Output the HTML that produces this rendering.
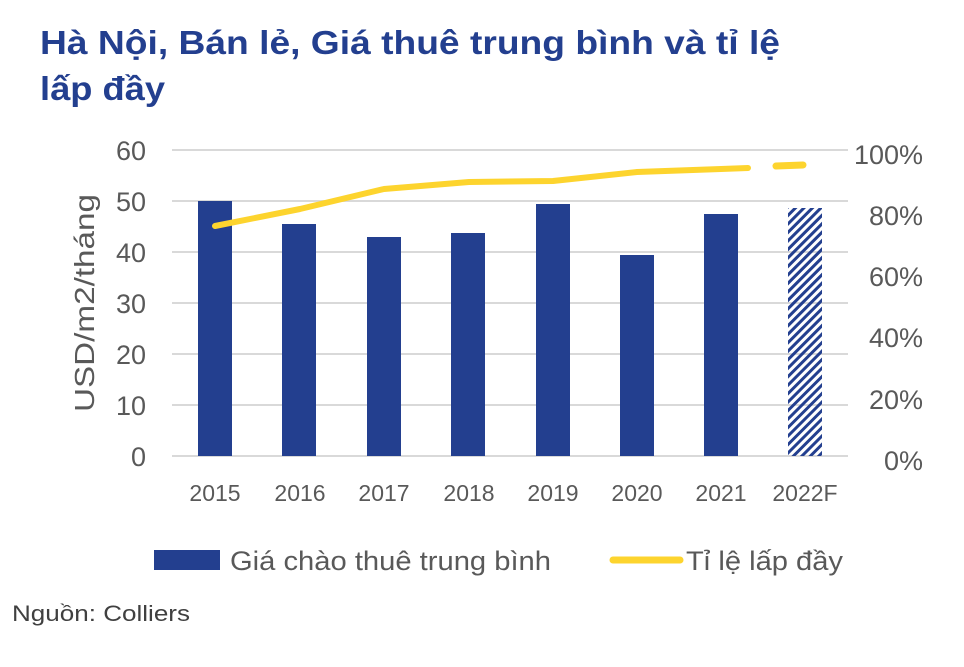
<!DOCTYPE html>
<html><head><meta charset="utf-8"><style>
body{margin:0;background:#fff;width:964px;height:662px;overflow:hidden;font-family:"Liberation Sans","DejaVu Sans",sans-serif}
</style></head><body>
<svg width="964" height="662" xmlns="http://www.w3.org/2000/svg" font-family="Liberation Sans, DejaVu Sans, sans-serif">
<defs><pattern id="h" width="6" height="6" patternUnits="userSpaceOnUse" patternTransform="rotate(45)"><rect width="3" height="6" fill="#233f8f"/></pattern></defs>
<text x="40" y="54" font-size="33" font-weight="bold" fill="#233f8f" textLength="740" lengthAdjust="spacingAndGlyphs">Hà Nội, Bán lẻ, Giá thuê trung bình và tỉ lệ</text>
<text x="40" y="100" font-size="33" font-weight="bold" fill="#233f8f" textLength="125" lengthAdjust="spacingAndGlyphs">lấp đầy</text>
<g stroke="#d9d9d9" stroke-width="2">
<line x1="172" x2="848" y1="150" y2="150"/><line x1="172" x2="848" y1="201" y2="201"/><line x1="172" x2="848" y1="252" y2="252"/><line x1="172" x2="848" y1="303" y2="303"/><line x1="172" x2="848" y1="354" y2="354"/><line x1="172" x2="848" y1="405" y2="405"/><line x1="172" x2="848" y1="456" y2="456"/></g>
<g fill="#595959" font-size="27" text-anchor="end">
<text x="146" y="160">60</text><text x="146" y="211">50</text><text x="146" y="262">40</text><text x="146" y="313">30</text><text x="146" y="364">20</text><text x="146" y="415">10</text><text x="146" y="466">0</text></g>
<g fill="#595959" font-size="27" text-anchor="end">
<text x="923" y="164">100%</text><text x="923" y="225">80%</text><text x="923" y="286">60%</text><text x="923" y="347">40%</text><text x="923" y="409">20%</text><text x="923" y="470">0%</text></g>
<text transform="translate(94,303) rotate(-90)" font-size="28" fill="#595959" text-anchor="middle" textLength="218" lengthAdjust="spacingAndGlyphs">USD/m2/tháng</text>
<g fill="#233f8f">
<rect x="198" y="201" width="34" height="255"/><rect x="282" y="224" width="34" height="232"/><rect x="367" y="237" width="34" height="219"/><rect x="451" y="233" width="34" height="223"/><rect x="536" y="204" width="34" height="252"/><rect x="620" y="255" width="34" height="201"/><rect x="704" y="214" width="34" height="242"/></g>
<rect x="788" y="208" width="34" height="248" fill="url(#h)"/>
<polyline points="215,226 300,209 384,189 469,182 553,181 637,172 721,169 748,168" fill="none" stroke="#fdd42e" stroke-width="6" stroke-linecap="round" stroke-linejoin="round"/>
<line x1="776" y1="166" x2="803" y2="165" stroke="#fdd42e" stroke-width="7" stroke-linecap="round"/>
<g fill="#595959" font-size="23" text-anchor="middle">
<text x="215" y="501">2015</text><text x="300" y="501">2016</text><text x="384" y="501">2017</text><text x="469" y="501">2018</text><text x="553" y="501">2019</text><text x="637" y="501">2020</text><text x="721" y="501">2021</text><text x="805" y="501">2022F</text></g>
<rect x="154" y="550" width="66" height="20" fill="#233f8f"/>
<text x="230" y="570" font-size="27" fill="#595959" textLength="321" lengthAdjust="spacingAndGlyphs">Giá chào thuê trung bình</text>
<line x1="613" y1="560" x2="680" y2="560" stroke="#fdd42e" stroke-width="7" stroke-linecap="round"/>
<text x="686" y="570" font-size="27" fill="#595959" textLength="157" lengthAdjust="spacingAndGlyphs">Tỉ lệ lấp đầy</text>
<text x="12" y="621" font-size="22" fill="#404040" textLength="178" lengthAdjust="spacingAndGlyphs">Nguồn: Colliers</text>
</svg>
</body></html>
